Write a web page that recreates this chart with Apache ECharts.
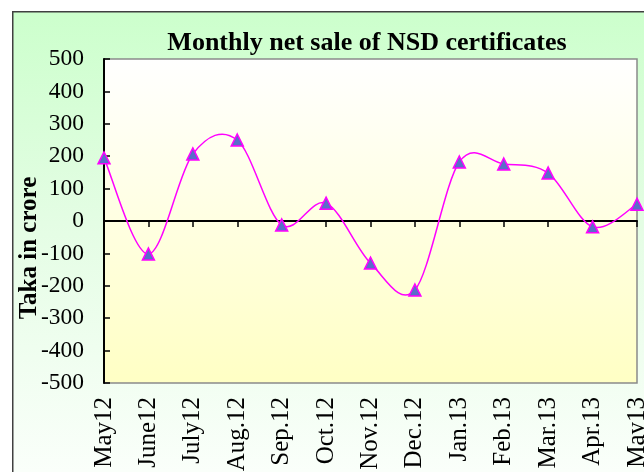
<!DOCTYPE html>
<html><head><meta charset="utf-8">
<script src="https://cdn.jsdelivr.net/npm/echarts@6/dist/echarts.min.js"></script>
<style>html,body{margin:0;padding:0;background:#fff}#c{width:644px;height:472px}</style>
</head><body><div id="c"></div>
<script>
const categories = ['May12','June12','July12','Aug.12','Sep.12','Oct.12','Nov.12','Dec.12','Jan.13','Feb.13','Mar.13','Apr.13','May13'];
const netSale = [195, -102, 207, 250, -12, 55, -130, -213, 182, 176, 148, -18, 52];
const yMin = -500, yMax = 500, yStep = 100;
const titleText = 'Monthly net sale of NSD certificates';
const yName = 'Taka in crore';

const chart = echarts.init(document.getElementById('c'), null, {renderer: 'canvas'});
const serif = '"Liberation Serif", "Times New Roman", serif';

// Excel-like smoothed line (Catmull-Rom -> cubic Bezier), points from the library's coordinate system
function renderSmooth(params, api) {
  if (params.dataIndex !== 0) return null;
  const pts = netSale.map((v, i) => api.coord([i, v]));
  const n = pts.length;
  let d = 'M' + pts[0][0] + ',' + pts[0][1];
  for (let i = 0; i < n - 1; i++) {
    const p0 = pts[Math.max(i - 1, 0)], p1 = pts[i], p2 = pts[i + 1], p3 = pts[Math.min(i + 2, n - 1)];
    const c1x = p1[0] + (p2[0] - p0[0]) / 6, c1y = p1[1] + (p2[1] - p0[1]) / 6;
    const c2x = p2[0] - (p3[0] - p1[0]) / 6, c2y = p2[1] - (p3[1] - p1[1]) / 6;
    d += ' C' + c1x + ',' + c1y + ' ' + c2x + ',' + c2y + ' ' + p2[0] + ',' + p2[1];
  }
  return {
    type: 'path',
    shape: {pathData: d},
    style: {fill: 'none', stroke: '#ff00ff', lineWidth: 1.5}
  };
}

chart.setOption({
  animation: false,
  backgroundColor: '#ffffff',
  graphic: [{
    type: 'rect', left: 12, top: 11, z: -10, silent: true,
    shape: {width: 640, height: 470},
    style: {
      fill: new echarts.graphic.LinearGradient(0, 0, 0, 1, [
        {offset: 0, color: '#ccffcc'}, {offset: 0.45, color: '#e4fde4'}, {offset: 1, color: '#fbfffb'}
      ]),
      stroke: '#404040', lineWidth: 1.5
    }
  }],
  title: {
    text: titleText, left: 362, textAlign: 'center', top: 25,
    textStyle: {fontFamily: serif, fontWeight: 'bold', fontSize: 26, color: '#000'}
  },
  grid: {
    left: 104, top: 59, width: 533, height: 324, show: true,
    outerBoundsMode: 'none', containLabel: false,
    backgroundColor: new echarts.graphic.LinearGradient(0, 0, 0, 1, [
      {offset: 0, color: '#ffffff'}, {offset: 1, color: '#ffffc4'}
    ]),
    borderColor: '#8a8a8a', borderWidth: 1.5
  },
  xAxis: [{
    type: 'category', data: categories, boundaryGap: false, position: 'bottom',
    axisLine: {show: false, onZero: false}, axisTick: {show: false},
    axisLabel: {rotate: 90, margin: 14, fontFamily: serif, fontSize: 25, color: '#000', interval: 0},
    splitLine: {show: false}
  }, {
    type: 'category', data: categories, boundaryGap: false, position: 'bottom',
    axisLine: {show: true, onZero: true, lineStyle: {color: '#000', width: 2}},
    axisTick: {show: true, inside: false, length: 6, lineStyle: {color: '#000', width: 1.5}, interval: 0},
    axisLabel: {show: false}, splitLine: {show: false}
  }],
  yAxis: {
    type: 'value', min: yMin, max: yMax, interval: yStep,
    name: yName, nameLocation: 'middle', nameGap: 62, nameRotate: 90, nameMoveOverlap: false,
    nameTextStyle: {fontFamily: serif, fontWeight: 'bold', fontSize: 25, color: '#000', padding: [0, 54, 0, 0]},
    axisLine: {show: true, lineStyle: {color: '#000', width: 2}},
    axisTick: {show: true, inside: true, length: 6, lineStyle: {color: '#000', width: 1.5}},
    axisLabel: {fontFamily: serif, fontSize: 23.5, color: '#000', margin: 20},
    splitLine: {show: false}
  },
  series: [{
    type: 'custom', xAxisIndex: 0, renderItem: renderSmooth,
    data: netSale.map((v, i) => [i, v]), z: 2, silent: true
  }, {
    type: 'line', data: netSale, xAxisIndex: 0, z: 3,
    lineStyle: {width: 0, opacity: 0},
    symbol: 'triangle', symbolSize: 12, showAllSymbol: true,
    itemStyle: {color: '#5a6ec8', borderColor: '#ff00ff', borderWidth: 1.5}
  }]
});
</script></body></html>
